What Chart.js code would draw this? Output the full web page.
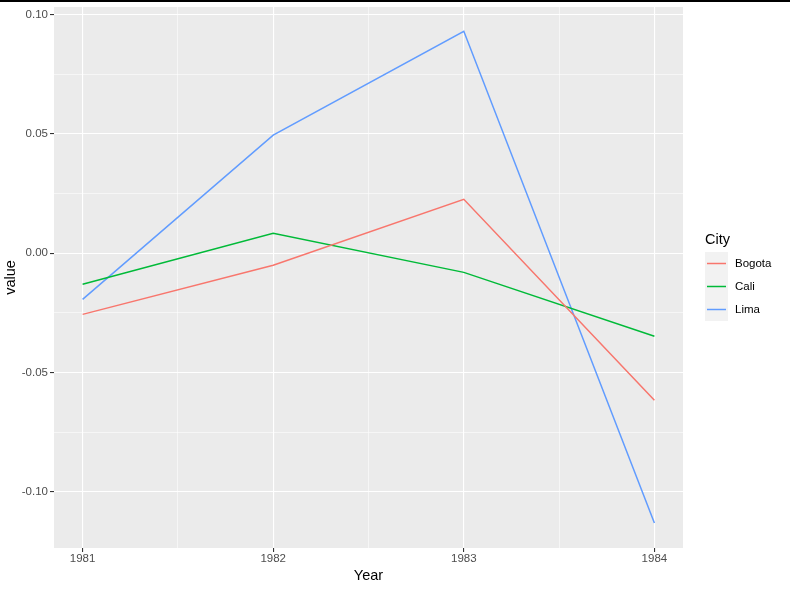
<!DOCTYPE html>
<html>
<head>
<meta charset="utf-8">
<script src="https://cdn.jsdelivr.net/npm/chart.js@4"></script>
<style>
    html, body { margin: 0; padding: 0; background: #fff; }
    #wrap { width: 790px; height: 589px; }
</style>
</head>
<body>
<div id="wrap"><canvas id="chart" width="790" height="589"></canvas></div>
<script>
// values
const years = [1981, 1982, 1983, 1984];
const cities = ["Bogota", "Cali", "Lima"];
const bogota = [-0.0256, -0.0050, 0.0226, -0.0616];
const cali = [-0.0130, 0.0084, -0.0080, -0.0348];
const lima = [-0.0193, 0.0495, 0.0930, -0.1130];
const yTicks = [-0.10, -0.05, 0.00, 0.05, 0.10];
const colors = ["#F8766D", "#00BA38", "#619CFF"];

const series = [bogota, cali, lima];
const font = "'Liberation Sans', Arial, sans-serif";

function isMajorY(v) {
    return yTicks.some(t => Math.abs(t - v) < 1e-9);
}
function isMajorX(v) {
    return years.indexOf(v) >= 0;
}

// panel background, top rule and legend
const ggPlugin = {
    id: "gg",
    beforeDraw(chart) {
        let ctx = chart.ctx;
        let a = chart.chartArea;
        ctx.save();
        ctx.fillStyle = "#ffffff";
        ctx.fillRect(0, 0, chart.width, chart.height);
        ctx.fillStyle = "#EBEBEB";
        ctx.fillRect(a.left, a.top, a.right - a.left, a.bottom - a.top);
        ctx.restore();
    },
    afterDraw(chart) {
        let ctx = chart.ctx;
        ctx.save();
        ctx.fillStyle = "#000";
        ctx.fillRect(0, 0, chart.width, 2);

        let x0 = 705, y0 = 252, key = 23;
        ctx.fillStyle = "#000";
        ctx.font = "14.5px " + font;
        ctx.textBaseline = "middle";
        ctx.textAlign = "left";
        ctx.fillText("City", x0, 240);
        chart.data.datasets.forEach((ds, i) => {
            let ky = y0 + i * key;
            ctx.fillStyle = "#F2F2F2";
            ctx.fillRect(x0, ky, key, key);
            ctx.strokeStyle = ds.borderColor;
            ctx.lineWidth = 1.5;
            ctx.beginPath();
            ctx.moveTo(x0 + 2, ky + key / 2);
            ctx.lineTo(x0 + key - 2, ky + key / 2);
            ctx.stroke();
            ctx.fillStyle = "#000";
            ctx.font = "11.5px " + font;
            ctx.fillText(ds.label, x0 + key + 7, ky + key / 2);
        });
        ctx.restore();
    }
};

new Chart(document.getElementById("chart"), {
    type: "line",
    data: {
        datasets: cities.map((c, i) => ({
            label: c,
            data: years.map((y, j) => ({ x: y, y: series[i][j] })),
            borderColor: colors[i],
            backgroundColor: colors[i],
            borderWidth: 1.5,
            pointRadius: 0,
            tension: 0,
            fill: false
        }))
    },
    options: {
        responsive: false,
        animation: false,
        layout: { padding: { top: 7, right: 107, left: 0, bottom: 0 } },
        plugins: {
            legend: { display: false },
            tooltip: { enabled: false }
        },
        scales: {
            x: {
                type: "linear",
                min: 1980.85,
                max: 1984.15,
                afterBuildTicks(scale) {
                    let t = [];
                    for (let v = 1981; v <= 1984; v += 0.5) t.push({ value: v });
                    scale.ticks = t;
                },
                afterFit(scale) {
                    scale.height = 41;
                    scale.paddingLeft = 0;
                    scale.paddingRight = 0;
                },
                border: { display: false },
                grid: {
                    color: "#ffffff",
                    lineWidth: c => (c.tick && isMajorX(c.tick.value)) ? 1.1 : 0.55,
                    tickColor: c => (c.tick && isMajorX(c.tick.value)) ? "#333333" : "rgba(0,0,0,0)",
                    tickLength: 4,
                    tickWidth: 1.1
                },
                ticks: {
                    autoSkip: false,
                    maxRotation: 0,
                    padding: 0,
                    color: "#4D4D4D",
                    font: { family: font, size: 11.5 },
                    callback: v => isMajorX(v) ? String(v) : ""
                },
                title: {
                    display: true,
                    text: "Year",
                    color: "#000",
                    font: { family: font, size: 14.5 },
                    padding: { top: 0, bottom: 4 }
                }
            },
            y: {
                min: -0.1235,
                max: 0.1032,
                afterBuildTicks(scale) {
                    let t = [];
                    for (let k = -4; k <= 4; k++) t.push({ value: k * 0.025 });
                    scale.ticks = t;
                },
                afterFit(scale) {
                    scale.width = 54;
                    scale.paddingTop = 0;
                    scale.paddingBottom = 0;
                },
                border: { display: false },
                grid: {
                    color: "#ffffff",
                    lineWidth: c => (c.tick && isMajorY(c.tick.value)) ? 1.1 : 0.55,
                    tickColor: c => (c.tick && isMajorY(c.tick.value)) ? "#333333" : "rgba(0,0,0,0)",
                    tickLength: 4,
                    tickWidth: 1.1
                },
                ticks: {
                    autoSkip: false,
                    padding: 2,
                    color: "#4D4D4D",
                    font: { family: font, size: 11.5 },
                    callback: v => isMajorY(v) ? v.toFixed(2) : ""
                },
                title: {
                    display: true,
                    text: "value",
                    color: "#000",
                    font: { family: font, size: 14.5 },
                    padding: { top: 2, bottom: 0 }
                }
            }
        }
    },
    plugins: [ggPlugin]
});
</script>
</body>
</html>
